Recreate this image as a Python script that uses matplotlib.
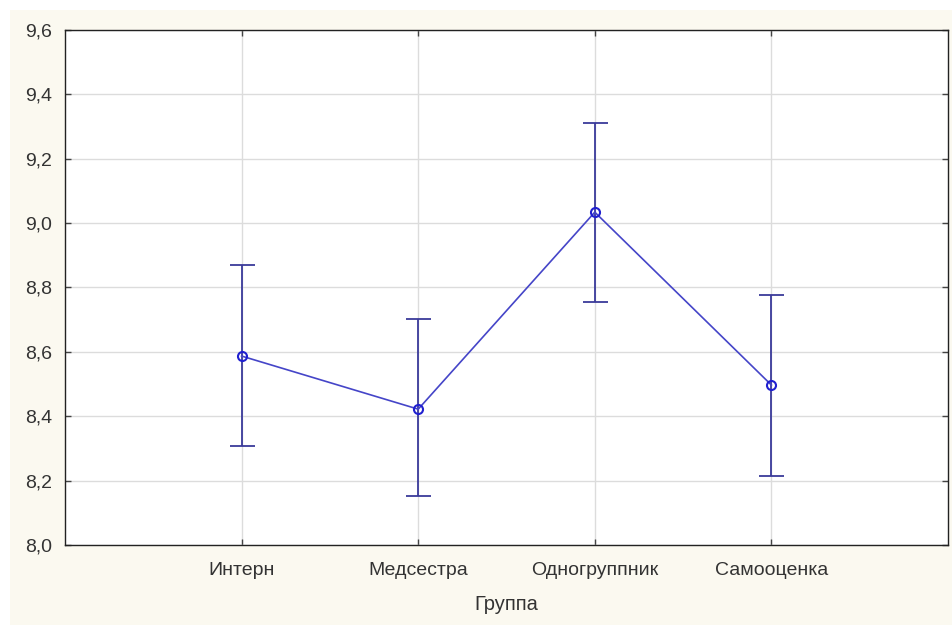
import matplotlib
matplotlib.use("Agg")
import matplotlib.pyplot as plt
from matplotlib.patches import Rectangle

categories = ["Интерн", "Медсестра", "Одногруппник", "Самооценка"]
means = [8.587, 8.422, 9.034, 8.497]
upper = [8.870, 8.702, 9.311, 8.776]
lower = [8.307, 8.152, 8.755, 8.214]
yticks = [8.0, 8.2, 8.4, 8.6, 8.8, 9.0, 9.2, 9.4, 9.6]
ytick_labels = ["8,0", "8,2", "8,4", "8,6", "8,8", "9,0", "9,2", "9,4", "9,6"]
xlabel = "Группа"

plt.rcParams['font.family'] = ['Liberation Sans', 'DejaVu Sans']

fig = plt.figure(figsize=(9.52, 6.25), dpi=100)
fig.patch.set_facecolor("white")
fig.patches.append(Rectangle((10/952, 0), 1 - 10/952, 1 - 10/625, transform=fig.transFigure,
                             facecolor="#fbf9f0", edgecolor="none", zorder=-10))

ax = fig.add_axes([65/952, 1 - 545/625, (948 - 65)/952, (545 - 30)/625])
ax.set_facecolor("white")

x = list(range(1, len(categories) + 1))
yerr_low = [m - l for m, l in zip(means, lower)]
yerr_up = [u - m for m, u in zip(means, upper)]

ax.errorbar(x, means, yerr=[yerr_low, yerr_up], fmt="none", ecolor="#3a3a9a",
            elinewidth=1.3, capsize=9, capthick=1.3, zorder=3)
ax.plot(x, means, color="#4545c8", linewidth=1.2, zorder=4)
ax.plot(x, means, linestyle="none", marker="o", markersize=6.5, markerfacecolor="none",
        markeredgecolor="#2020d0", markeredgewidth=1.5, zorder=5)

ax.set_xlim(0, 5)
ax.set_ylim(8.0, 9.6)
ax.set_xticks(x)
ax.set_xticklabels(categories, fontsize=14, color="#333333")
ax.set_yticks(yticks)
ax.set_yticklabels(ytick_labels, fontsize=14, color="#333333")
ax.grid(True, color="#dcdcdc", linewidth=1.0, zorder=0)
ax.set_axisbelow(True)
for s in ax.spines.values():
    s.set_color("#222222")
    s.set_linewidth(1.0)
ax.tick_params(axis="both", length=4, width=1, color="#444444", direction="in",
               top=True, right=True)
ax.tick_params(axis="y", pad=9)
ax.tick_params(axis="x", pad=12)
ax.set_xlabel(xlabel, fontsize=14.5, color="#333333", labelpad=12)

fig.savefig("out.png", dpi=100, facecolor=fig.get_facecolor())
